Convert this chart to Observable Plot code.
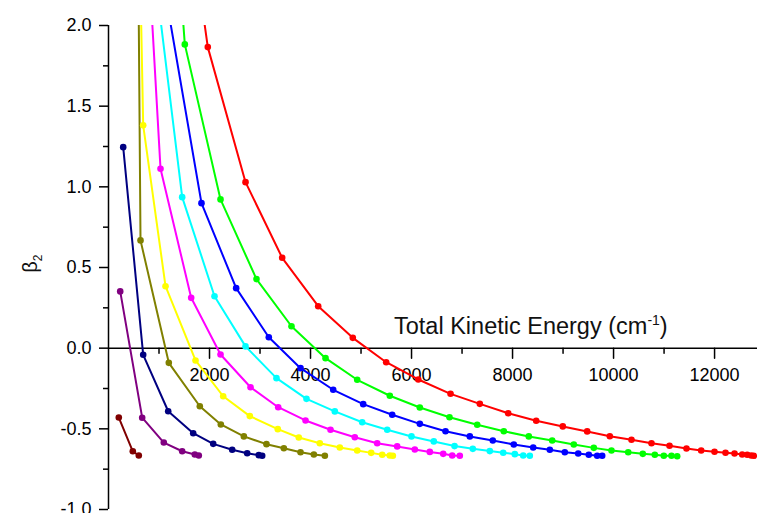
<!DOCTYPE html>
<html><head><meta charset="utf-8">
<script src="https://cdn.jsdelivr.net/npm/d3@7"></script>
<script src="https://cdn.jsdelivr.net/npm/@observablehq/plot@0.6"></script>
<style>body{margin:0;background:#fff} svg{display:block}</style>
</head><body><div id="chart"></div>
<script>
// Series values: [total kinetic energy (cm-1), beta2]
const maroon  = [[204,-0.430],[481,-0.639],[600,-0.665]];
const purple  = [[232,0.352],[667,-0.431],[1095,-0.585],[1459,-0.639],[1709,-0.659],[1788,-0.665]];
const navy    = [[291,1.246],[687,-0.041],[1182,-0.391],[1677,-0.527],[2073,-0.593],[2449,-0.630],[2746,-0.651],[2976,-0.663],[3043,-0.667]];
const olive   = [[562,3.5],[634,0.668],[1194,-0.091],[1808,-0.360],[2224,-0.473],[2680,-0.547],[3128,-0.595],[3472,-0.620],[3802,-0.645],[4066,-0.659],[4284,-0.667]];
const yellow  = [[610,2.6],[687,1.381],[1129,0.384],[1723,-0.076],[2271,-0.298],[2798,-0.421],[3352,-0.502],[3768,-0.554],[4184,-0.589],[4580,-0.616],[4924,-0.634],[5201,-0.649],[5419,-0.661],[5570,-0.665],[5630,-0.667]];
const magenta = [[760,2.6],[1030,1.112],[1637,0.312],[2218,-0.039],[2812,-0.242],[3360,-0.366],[3901,-0.448],[4396,-0.506],[4877,-0.552],[5320,-0.589],[5716,-0.609],[6065,-0.628],[6362,-0.643],[6627,-0.655],[6805,-0.665],[6956,-0.667]];
const cyan    = [[810,2.6],[1459,0.936],[2099,0.322],[2713,0.011],[3326,-0.186],[3920,-0.314],[4481,-0.392],[5023,-0.459],[5518,-0.506],[5999,-0.547],[6441,-0.578],[6851,-0.607],[7213,-0.624],[7550,-0.638],[7815,-0.648],[8045,-0.657],[8211,-0.665],[8342,-0.667]];
const blue    = [[960,2.5],[1841,0.899],[2528,0.372],[3174,0.068],[3802,-0.124],[4449,-0.258],[5043,-0.347],[5617,-0.413],[6164,-0.469],[6673,-0.515],[7154,-0.547],[7609,-0.572],[8025,-0.597],[8409,-0.616],[8738,-0.630],[9035,-0.645],[9300,-0.653],[9510,-0.661],[9676,-0.667],[9775,-0.667]];
const green   = [[1250,3.0],[1511,1.883],[2218,0.922],[2930,0.428],[3623,0.136],[4297,-0.062],[4924,-0.196],[5570,-0.295],[6164,-0.368],[6752,-0.428],[7300,-0.475],[7827,-0.515],[8322,-0.547],[8785,-0.572],[9213,-0.597],[9609,-0.618],[9959,-0.634],[10290,-0.645],[10579,-0.655],[10817,-0.661],[10995,-0.667],[11147,-0.667],[11260,-0.670]];
const red     = [[1550,2.8],[1966,1.866],[2713,1.029],[3439,0.560],[4152,0.260],[4837,0.064],[5498,-0.087],[6134,-0.194],[6772,-0.283],[7352,-0.345],[7914,-0.403],[8468,-0.450],[8995,-0.485],[9478,-0.516],[9926,-0.546],[10355,-0.568],[10751,-0.589],[11108,-0.605],[11444,-0.622],[11735,-0.634],[11999,-0.642],[12217,-0.648],[12395,-0.653],[12547,-0.659],[12646,-0.661],[12725,-0.665],[12777,-0.667]];

const seriesNames  = ["S1","S2","S3","S4","S5","S6","S7","S8","S9","S10"];
const seriesValues = [maroon, purple, navy, olive, yellow, magenta, cyan, blue, green, red];
const seriesColors = ["#800000","#800080","#000080","#808000","#FFFF00","#FF00FF","#00FFFF","#0000FF","#00FF00","#FF0000"];

const xMajorTicks = [2000,4000,6000,8000,10000,12000];
const xMinorTicks = [1000,3000,5000,7000,9000,11000];
const yMajorTicks = [-1,-0.5,0,0.5,1,1.5,2];
const yMinorTicks = [-0.75,-0.25,0.25,0.75,1.25,1.75];
const xTitle = "Total Kinetic Energy (cm";
const xTitleSup = "-1";
const yTitle = "β";
const yTitleSub = "2";

const data = seriesValues.flatMap((s, i) => s.map(([x, y]) => ({x, y, series: seriesNames[i]})));
const tickShape = {draw(ctx, l) { ctx.moveTo(0, 0); ctx.lineTo(0, -l); }};
const font = "'Liberation Sans', Arial, sans-serif";

const plot = Plot.plot({
  width: 757, height: 513,
  marginLeft: 108, marginRight: 0, marginTop: 25, marginBottom: 4,
  style: {fontFamily: font, fontSize: "18px", background: "white", color: "black", overflow: "visible"},
  x: {domain: [0, 12850], axis: null},
  y: {domain: [-1, 2]},
  color: {type: "ordinal", domain: seriesNames, range: seriesColors},
  marks: [
    Plot.axisY(yMajorTicks, {tickSize: 9, tickPadding: 8, tickFormat: d => d.toFixed(1), strokeWidth: 1.5, label: null, fontSize: 18}),
    Plot.axisY(yMinorTicks, {tickSize: 5, text: null, label: null, strokeWidth: 1.5}),
    Plot.ruleX([0], {stroke: "black", strokeWidth: 1.5}),
    Plot.ruleY([0], {stroke: "black", strokeWidth: 1.5}),
    Plot.vector(xMajorTicks, {x: d => d, y: 0, length: 10, rotate: 180, anchor: "start", shape: tickShape, stroke: "black", strokeWidth: 1.5}),
    Plot.vector(xMinorTicks, {x: d => d, y: 0, length: 5, rotate: 180, anchor: "start", shape: tickShape, stroke: "black", strokeWidth: 1.5}),
    Plot.text(xMajorTicks, {x: d => d, y: 0, dy: 27, text: d => String(d), fontSize: 18, fill: "black"}),
    Plot.line(data, {x: "x", y: "y", z: "series", stroke: "series", strokeWidth: 2, clip: true}),
    Plot.dot(data, {x: "x", y: "y", fill: "series", r: 3.3, clip: true})
  ]
});

const svg = d3.select(plot);
const sx = plot.scale("x"), sy = plot.scale("y");
const t = svg.append("text")
  .attr("x", sx.apply(5663)).attr("y", sy.apply(0) - 13.5)
  .attr("text-anchor", "start")
  .attr("font-family", font).attr("font-size", 23.5).attr("fill", "#111");
t.append("tspan").text(xTitle);
t.append("tspan").attr("font-size", 14).attr("dy", -9).text(xTitleSup);
t.append("tspan").attr("dy", 9).text(")");

const yl = svg.append("text")
  .attr("transform", `translate(37,${sy.apply(0.52)}) rotate(-90)`)
  .attr("text-anchor", "middle")
  .attr("font-family", font).attr("font-size", 20).attr("fill", "#111");
yl.append("tspan").text(yTitle);
yl.append("tspan").attr("font-size", 12).attr("dy", 5).text(yTitleSub);

document.getElementById("chart").appendChild(plot);
</script>
</body></html>
